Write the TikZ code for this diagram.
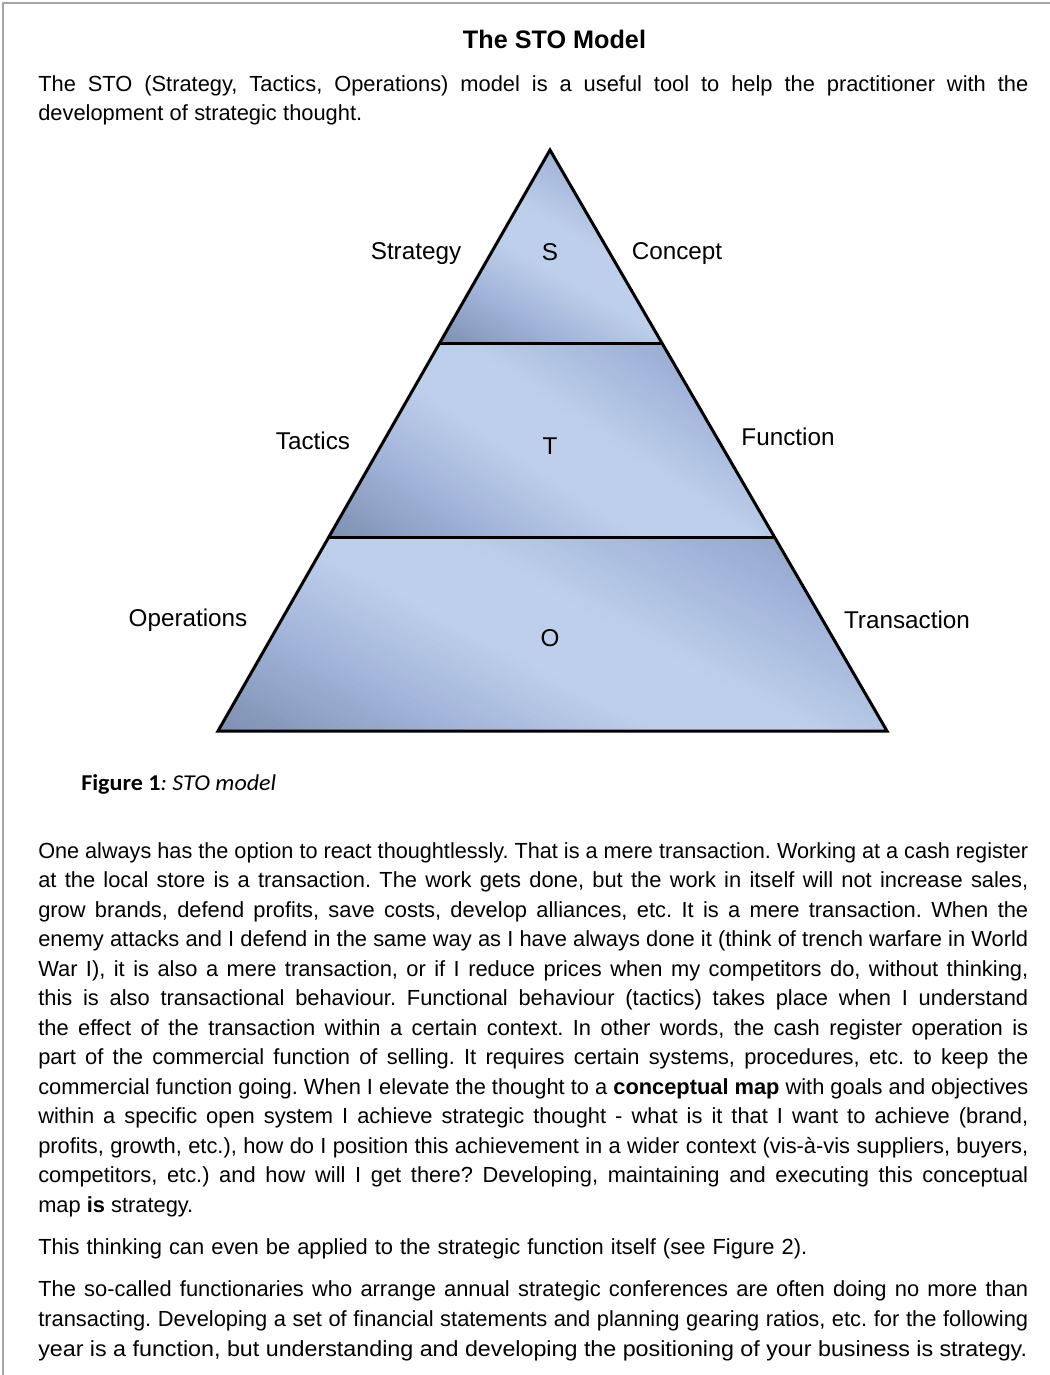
\documentclass[tikz,border=0pt]{standalone}
\usepackage{fontspec}
\usepackage{graphicx}
\setmainfont{Liberation Sans}
\newfontfamily\capfont{Carlito}
\usetikzlibrary{calc}
\frenchspacing

\definecolor{framegray}{RGB}{166,166,166}
\definecolor{bandDark}{RGB}{126,144,176}
\definecolor{bandDarkB}{RGB}{138,156,192}
\definecolor{bandMid}{RGB}{160,178,216}
\definecolor{bandLight}{RGB}{190,207,235}

% set a line to a given width: stretch the spaces, or compress if too long
\newlength\natw
\newcommand\fitline[2]{\settowidth\natw{#2}%
  \ifdim\natw>#1\relax\resizebox{#1}{\height}{#2}\else\makebox[#1][s]{#2}\fi}
% set a line to a given width by scaling it horizontally
\newcommand\scaleline[2]{\resizebox{#1}{\height}{#2}}

\newcommand\bodyfont{\fontsize{16.4pt}{22pt}\selectfont}
\newcommand\labelfont{\fontsize{18.2pt}{22pt}\selectfont}

% colour of the band gradient at position \s in [-1,1]:
% dark corner -> mid -> light centre -> mid -> slightly lighter dark corner
\newcommand\setbandcolour{%
  \ifdim\s pt<-0.55pt
    \pgfmathsetmacro\p{100*(\s+1)/0.45}\colorlet{bandcol}{bandMid!\p!bandDark}%
  \else\ifdim\s pt<-0.15pt
    \pgfmathsetmacro\p{100*(\s+0.55)/0.4}\colorlet{bandcol}{bandLight!\p!bandMid}%
  \else\ifdim\s pt<0.15pt
    \colorlet{bandcol}{bandLight}%
  \else\ifdim\s pt<0.6pt
    \pgfmathsetmacro\p{100*(\s-0.15)/0.45}\colorlet{bandcol}{bandMid!\p!bandLight}%
  \else
    \pgfmathsetmacro\p{100*(\s-0.6)/0.4}\colorlet{bandcol}{bandDarkB!\p!bandMid}%
  \fi\fi\fi\fi}

% gradient fill of a band: #1 clip path, #2 centre, #3 gradient angle, #4 half extent
\newcommand\gradband[4]{%
  \begin{scope}
    \clip #1;
    \begin{scope}[shift={#2}, rotate=#3]
      \foreach \i in {0,...,79} {
        \pgfmathsetmacro\s{-1+2*(\i+0.5)/80}
        \setbandcolour
        \fill[bandcol] ({#4*(-1+2*\i/80)},-420) rectangle ({#4*(-1+2*(\i+1)/80)+1.5},420);
      }
    \end{scope}
  \end{scope}}

\begin{document}
\begin{tikzpicture}[x=0.75pt,y=-0.75pt,
  body/.style={anchor=base west, inner sep=0pt, font=\bodyfont},
  lbl/.style={anchor=base, inner sep=0pt, font=\labelfont},
  edge/.style={draw=black, line width=2.25pt, line join=miter}]

\useasboundingbox (0,0) rectangle (1050,1375);
\fill[white] (0,0) rectangle (1050,1375);

% page frame (top and left rules)
\draw[framegray, line width=1.5pt] (3,1375) -- (3,3) -- (1050,3);

% title and introduction
\node[anchor=base, inner sep=0pt, font=\fontsize{19pt}{22pt}\selectfont] (title) at (554.5,48)
  {\fitline{137.25pt}{\bfseries The STO Model}};
\node[body] (i1) at (38,91) {\fitline{742.5pt}{The STO (Strategy, Tactics, Operations) model is a useful tool to help the practitioner with the}};
\node[body] (i2) at (38,120) {\fitline{243pt}{development of strategic thought.}};

% pyramid geometry
\coordinate (A) at (550,150);
\coordinate (BL) at (218,731);
\coordinate (BR) at (887,731);
\coordinate (L1) at ($(A)!1/3!(BL)$);
\coordinate (R1) at ($(A)!1/3!(BR)$);
\coordinate (L2) at ($(A)!2/3!(BL)$);
\coordinate (R2) at ($(A)!2/3!(BR)$);

\gradband{(A) -- (L1) -- (R1) -- cycle}{(550.8,246.8)}{60}{140}
\gradband{(L1) -- (L2) -- (R2) -- (R1) -- cycle}{(551.7,440.5)}{56}{205}
\gradband{(L2) -- (BL) -- (BR) -- (R2) -- cycle}{(552.5,634)}{62}{243}

\draw[edge] (A) -- (BL) -- (BR) -- cycle;
\draw[edge] (L1) -- (R1);
\draw[edge] (L2) -- (R2);

% level letters and side labels
\node[lbl] (s) at (550,260) {S};
\node[lbl] (t) at (550,454) {T};
\node[lbl] (o) at (550,646) {O};
\node[lbl] (strategy) at (416,259) {Strategy};
\node[lbl] (concept) at (677,259) {Concept};
\node[lbl] (tactics) at (313,449) {Tactics};
\node[lbl] (function) at (788,445) {Function};
\node[lbl] (operations) at (188,626) {Operations};
\node[lbl] (transaction) at (907,628) {Transaction};

% caption
\node[anchor=base west, inner sep=0pt, font=\capfont\fontsize{17pt}{20pt}\selectfont] (caption) at (81,790)
  {\scaleline{146.25pt}{{\bfseries Figure 1}\textit{: STO model}}};

% body text
\node[body] (a1) at (38,858) {\fitline{742.5pt}{One always has the option to react thoughtlessly. That is a mere transaction. Working at a cash register}};
\node[body] (a2) at (38,887.5) {\fitline{742.5pt}{at the local store is a transaction. The work gets done, but the work in itself will not increase sales,}};
\node[body] (a3) at (38,917) {\fitline{742.5pt}{grow brands, defend profits, save costs, develop alliances, etc. It is a mere transaction. When the}};
\node[body] (a4) at (38,946.5) {\fitline{742.5pt}{enemy attacks and I defend in the same way as I have always done it (think of trench warfare in World}};
\node[body] (a5) at (38,976) {\fitline{742.5pt}{War I), it is also a mere transaction, or if I reduce prices when my competitors do, without thinking,}};
\node[body] (a6) at (38,1005.5) {\fitline{742.5pt}{this is also transactional behaviour. Functional behaviour (tactics) takes place when I understand}};
\node[body] (a7) at (38,1035) {\fitline{742.5pt}{the effect of the transaction within a certain context. In other words, the cash register operation is}};
\node[body] (a8) at (38,1064.5) {\fitline{742.5pt}{part of the commercial function of selling. It requires certain systems, procedures, etc. to keep the}};
\node[body] (a9) at (38,1094) {\fitline{742.5pt}{commercial function going. When I elevate the thought to a {\bfseries conceptual map} with goals and objectives}};
\node[body] (a10) at (38,1123.5) {\fitline{742.5pt}{within a specific open system I achieve strategic thought - what is it that I want to achieve (brand,}};
\node[body] (a11) at (38,1153) {\fitline{742.5pt}{profits, growth, etc.), how do I position this achievement in a wider context (vis-à-vis suppliers, buyers,}};
\node[body] (a12) at (38,1182.5) {\fitline{742.5pt}{competitors, etc.) and how will I get there? Developing, maintaining and executing this conceptual}};
\node[body] (a13) at (38,1212) {\fitline{116.25pt}{map {\bfseries is} strategy.}};

\node[body] (b1) at (38,1254) {\fitline{576.75pt}{This thinking can even be applied to the strategic function itself (see Figure 2).}};

\node[body] (c1) at (38,1296) {\fitline{742.5pt}{The so-called functionaries who arrange annual strategic conferences are often doing no more than}};
\node[body] (c2) at (38,1326) {\fitline{742.5pt}{transacting. Developing a set of financial statements and planning gearing ratios, etc. for the following}};
\node[body] (c3) at (38,1356) {\scaleline{741.75pt}{year is a function, but understanding and developing the positioning of your business is strategy.}};

\end{tikzpicture}
\end{document}
